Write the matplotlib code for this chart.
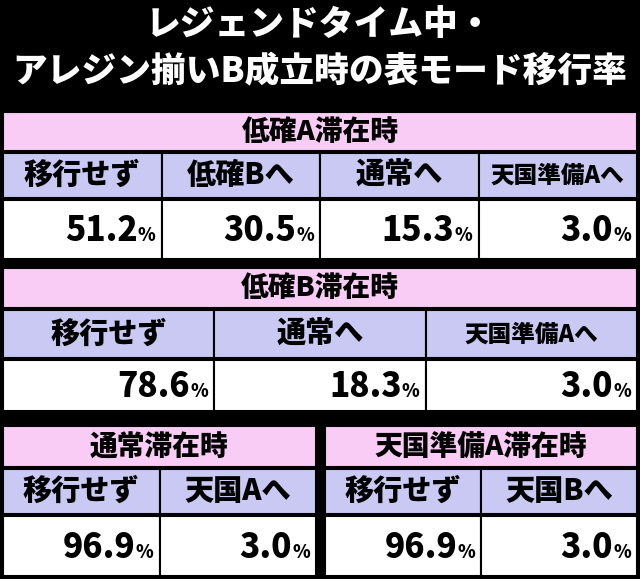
import matplotlib.pyplot as plt
from matplotlib.patches import Rectangle

plt.rcParams['font.family'] = ['Noto Sans CJK JP', 'DejaVu Sans']

title_lines = ["レジェンドタイム中・", "アレジン揃いB成立時の表モード移行率"]

t1_title = "低確A滞在時"
t1_heads = ["移行せず", "低確Bへ", "通常へ", "天国準備Aへ"]
t1_vals = ["51.2", "30.5", "15.3", "3.0"]

t2_title = "低確B滞在時"
t2_heads = ["移行せず", "通常へ", "天国準備Aへ"]
t2_vals = ["78.6", "18.3", "3.0"]

t3_title = "通常滞在時"
t3_heads = ["移行せず", "天国Aへ"]
t3_vals = ["96.9", "3.0"]

t4_title = "天国準備A滞在時"
t4_heads = ["移行せず", "天国Bへ"]
t4_vals = ["96.9", "3.0"]

PINK = "#f9ccf6"
LAV = "#c9c9f4"

fig = plt.figure(figsize=(6.4, 5.79), dpi=100)
fig.patch.set_facecolor("black")
ax = fig.add_axes([0, 0, 1, 1])
ax.set_xlim(0, 640)
ax.set_ylim(579, 0)
ax.axis("off")

ax.text(320, 25, title_lines[0], color="white", fontsize=25, fontweight="heavy", ha="center", va="center")
ax.text(320, 72, title_lines[1], color="white", fontsize=25, fontweight="heavy", ha="center", va="center")


def cell(x0, y0, x1, y1, color):
    ax.add_patch(Rectangle((x0, y0), x1 - x0, y1 - y0, facecolor=color, edgecolor="black", lw=1.5))


def table(x0, x1, ys, title, heads, vals):
    cell(x0, ys[0], x1, ys[1], PINK)
    ax.text((x0 + x1) / 2, (ys[0] + ys[1]) / 2, title, fontsize=20, fontweight="heavy", ha="center", va="center")
    n = len(heads)
    w = (x1 - x0) / n
    for i, (h, v) in enumerate(zip(heads, vals)):
        a = x0 + i * w
        cell(a, ys[1] + 2, a + w, ys[2], LAV)
        fs = 21 if len(h) < 5 else 17
        ax.text(a + w / 2, (ys[1] + 2 + ys[2]) / 2, h, fontsize=fs, fontweight="heavy", ha="center", va="center")
        cell(a, ys[2] + 2, a + w, ys[3], "white")
        ym = (ys[2] + 2 + ys[3]) / 2
        ax.text(a + w - 24, ym + 1, v, fontsize=24, fontweight="heavy", ha="right", va="center")
        ax.text(a + w - 6, ym + 6, "%", fontsize=13, fontweight="heavy", ha="right", va="center")


table(3, 637, [112, 151, 198, 259], t1_title, t1_heads, t1_vals)
table(3, 637, [268, 308, 358, 411], t2_title, t2_heads, t2_vals)
table(3, 316, [426, 467, 514, 576], t3_title, t3_heads, t3_vals)
table(325, 637, [426, 467, 514, 576], t4_title, t4_heads, t4_vals)

fig.savefig("out.png", dpi=100, facecolor="black")
